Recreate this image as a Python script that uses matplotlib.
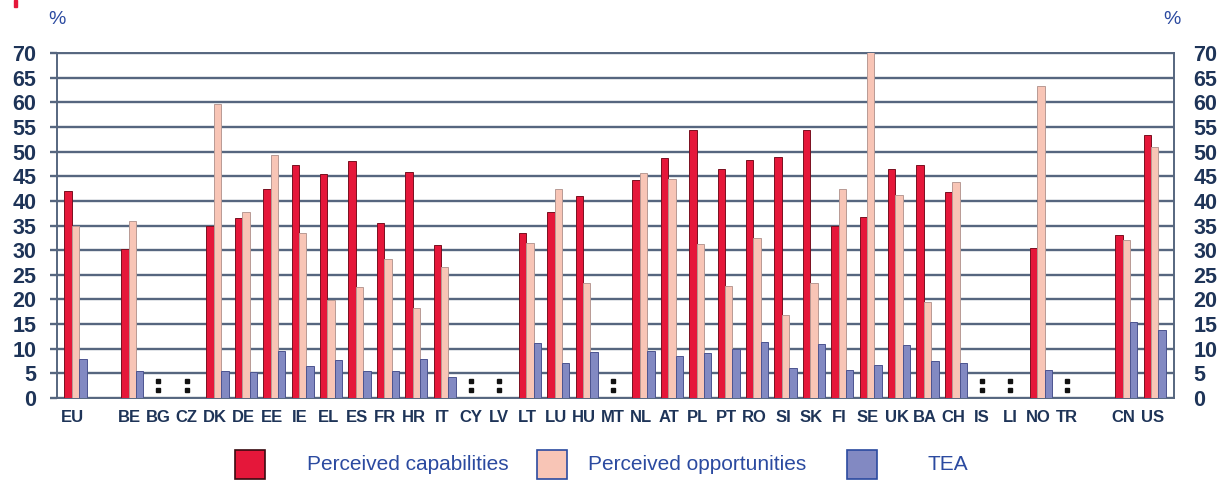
import matplotlib
matplotlib.use("Agg")
import matplotlib.pyplot as plt
import numpy as np
from matplotlib.patches import Rectangle

# donnees (None = non disponible ":")
countries = ["EU", "", "BE", "BG", "CZ", "DK", "DE", "EE", "IE", "EL", "ES", "FR", "HR", "IT",
             "CY", "LV", "LT", "LU", "HU", "MT", "NL", "AT", "PL", "PT", "RO", "SI", "SK",
             "FI", "SE", "UK", "BA", "CH", "IS", "LI", "NO", "TR", "", "CN", "US"]
capabilities = [42.0, None, 30.3, None, None, 35.0, 36.5, 42.5, 47.2, 45.5, 48.1, 35.5, 45.8, 31.1,
                None, None, 33.5, 37.7, 40.9, None, 44.3, 48.6, 54.3, 46.5, 48.3, 49.0, 54.3,
                35.0, 36.7, 46.4, 47.3, 41.7, None, None, 30.5, None, None, 33.1, 53.3]
opportunities = [35.0, None, 36.0, None, None, 59.7, 37.7, 49.4, 33.4, 19.8, 22.5, 28.2, 18.3, 26.5,
                 None, None, 31.5, 42.5, 23.3, None, 45.6, 44.4, 31.3, 22.8, 32.4, 16.9, 23.4,
                 42.4, 72.0, 41.1, 19.4, 43.8, None, None, 63.4, None, None, 32.0, 51.0]
tea = [8.0, None, 5.4, None, None, 5.5, 5.3, 9.6, 6.5, 7.8, 5.5, 5.4, 8.0, 4.3,
       None, None, 11.2, 7.2, 9.4, None, 9.5, 8.6, 9.2, 10.0, 11.3, 6.0, 10.9,
       5.7, 6.7, 10.7, 7.6, 7.2, None, None, 5.7, None, None, 15.5, 13.8]
missing = ["BG", "CZ", "CY", "LV", "MT", "IS", "LI", "TR"]
legend_labels = ["Perceived capabilities", "Perceived opportunities", "TEA"]

red = "#e5173a"
pink = "#f8c5b6"
blue = "#8289c2"
navy = "#1e3458"
txtblue = "#2b4aa0"
gridc = "#56667f"

plt.rcParams['font.family'] = ['Liberation Sans Narrow', 'Liberation Sans', 'DejaVu Sans']

fig = plt.figure(figsize=(12.23, 4.80), dpi=100)
ax = fig.add_axes([57 / 1223, 1 - 398 / 480, (1174 - 57) / 1223, 345 / 480])

x = np.arange(len(countries))
w = 0.26

def vals(lst):
    return [v if v is not None else 0 for v in lst]

ax.bar(x - 0.17, vals(capabilities), w, color=red, edgecolor="#7a1020", linewidth=0.7, zorder=3)
ax.bar(x + 0.09, vals(opportunities), w, color=pink, edgecolor="#b89a94", linewidth=0.7, zorder=3)
ax.bar(x + 0.35, vals(tea), w, color=blue, edgecolor="#4c5490", linewidth=0.7, zorder=3)

# marque ":" pour les pays sans donnees
for i, c in enumerate(countries):
    if c in missing:
        ax.plot([i, i], [1.6, 3.4], linestyle="none", marker="s", markersize=2.2,
                color="#111111", zorder=4)

ax.set_xlim(-0.56, 38.77)
ax.set_ylim(0, 70)
ax.set_yticks(np.arange(0, 71, 5))
ax.yaxis.grid(True, color=gridc, linewidth=1.7, zorder=0)
ax.set_axisbelow(True)
for s in ["left", "right", "top", "bottom"]:
    ax.spines[s].set_color(gridc)
    ax.spines[s].set_linewidth(1.4)

ax.set_xticks(x)
ax.set_xticklabels(countries, fontsize=12, fontweight="bold", color=navy)
ax.tick_params(axis="x", length=0, pad=9)
ax.tick_params(axis="y", length=5, width=1.7, color=gridc, labelsize=15.5, labelcolor=navy, pad=10)
for t in ax.get_yticklabels():
    t.set_fontweight("bold")

# axe de droite (memes graduations)
ax2 = ax.twinx()
ax2.set_ylim(0, 70)
ax2.set_yticks(np.arange(0, 71, 5))
ax2.tick_params(axis="y", length=0, labelsize=15.5, labelcolor=navy, pad=14)
for t in ax2.get_yticklabels():
    t.set_fontweight("bold")
for s in ax2.spines.values():
    s.set_visible(False)

fig.text(57 / 1223, 1 - 19 / 480, "%", ha="center", va="center", fontsize=14,
         color=txtblue, family="Liberation Sans")
fig.text(1172 / 1223, 1 - 19 / 480, "%", ha="center", va="center", fontsize=14,
         color=txtblue, family="Liberation Sans")

# petite marque rouge en haut a gauche
fig.patches.append(Rectangle((14 / 1223, 1 - 7 / 480), 3 / 1223, 7 / 480,
                             transform=fig.transFigure, color=red, figure=fig))

# legende dessinee a la main
box_x = [235, 537, 847]
text_x = [307, 588, 927]
box_fc = [red, pink, blue]
box_ec = ["#3a0a10", txtblue, txtblue]
for bx, tx, fc, ec, lab in zip(box_x, text_x, box_fc, box_ec, legend_labels):
    fig.patches.append(Rectangle((bx / 1223, 1 - 479 / 480), 30 / 1223, 29 / 480,
                                 transform=fig.transFigure, facecolor=fc, edgecolor=ec,
                                 linewidth=1.2, figure=fig))
    fig.text(tx / 1223, 1 - 465 / 480, lab, ha="left", va="center", fontsize=15,
             color=txtblue, family="Liberation Sans")

fig.savefig("out.png", dpi=100)
